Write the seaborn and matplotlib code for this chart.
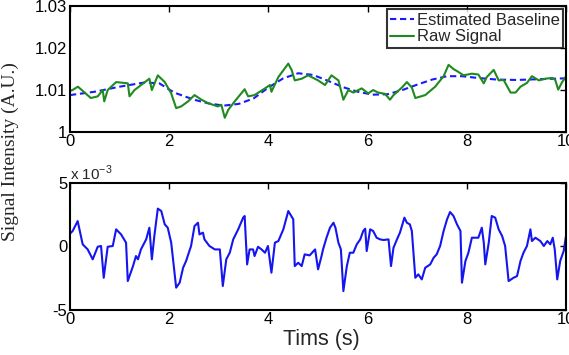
import numpy as np
import pandas as pd
import matplotlib
matplotlib.use("Agg")
import matplotlib.pyplot as plt
import seaborn as sns

# ---------------- data ----------------
raw_t = [0.0, 0.05, 0.16, 0.42, 0.56, 0.66, 0.69, 0.76, 0.93, 1.165, 1.2, 1.30, 1.60, 1.65, 1.77, 1.91,
         2.04, 2.14, 2.24, 2.38, 2.51, 2.65, 2.78, 2.98, 3.05, 3.12, 3.19, 3.32, 3.52, 3.59, 3.72, 3.93,
         4.03, 4.06, 4.20, 4.40, 4.47, 4.53, 4.67, 4.80, 5.0, 5.14, 5.27, 5.41, 5.51, 5.61, 5.71, 5.88,
         6.01, 6.11, 6.21, 6.35, 6.45, 6.52, 6.69, 6.79, 6.89, 6.96, 7.16, 7.36, 7.53, 7.63, 7.73, 7.83,
         7.93, 8.10, 8.23, 8.34, 8.40, 8.54, 8.64, 8.74, 8.88, 8.98, 9.08, 9.21, 9.31, 9.45, 9.58, 9.72,
         9.78, 9.84, 9.92, 10.0]
raw_v = [1.0098, 1.0100, 1.0108, 1.0081, 1.0085, 1.0100, 1.0073, 1.0100, 1.0119, 1.0116, 1.0085, 1.0100,
         1.0127, 1.0100, 1.0135, 1.0119, 1.0092, 1.0057, 1.0061, 1.0073, 1.0088, 1.0077, 1.0069, 1.0061,
         1.0065, 1.0034, 1.0053, 1.0073, 1.0102, 1.0085, 1.0088, 1.0104, 1.0112, 1.0096, 1.0131, 1.0163,
         1.0147, 1.0123, 1.0127, 1.0135, 1.0123, 1.0112, 1.0135, 1.0123, 1.0077, 1.0100, 1.0094, 1.0104,
         1.0092, 1.0100, 1.0094, 1.0091, 1.0077, 1.0088, 1.0106, 1.0119, 1.0106, 1.0081, 1.0088, 1.0108,
         1.0133, 1.0160, 1.0150, 1.0143, 1.0135, 1.0139, 1.0137, 1.0116, 1.0131, 1.0148, 1.0123, 1.0124,
         1.0094, 1.0094, 1.0108, 1.0117, 1.0133, 1.0123, 1.0127, 1.0129, 1.0124, 1.0101, 1.0119, 1.0133]

base_t = [0, 0.5, 1.0, 1.5, 1.8, 2.1, 2.5, 2.8, 3.1, 3.4, 3.7, 4.0, 4.3, 4.6, 4.9, 5.2, 5.5, 5.8, 6.1,
          6.4, 6.7, 7.0, 7.3, 7.6, 7.9, 8.2, 8.6, 9.0, 9.5, 10]
base_v = [1.0088, 1.0096, 1.0108, 1.0118, 1.0116, 1.0094, 1.0077, 1.0068, 1.0063, 1.0067, 1.0080, 1.0106,
          1.0128, 1.0140, 1.0136, 1.0122, 1.0107, 1.0096, 1.0089, 1.0090, 1.0100, 1.0113, 1.0125, 1.0133,
          1.0133, 1.0129, 1.0125, 1.0124, 1.0126, 1.0128]

det_t = [0.0, 0.054, 0.155, 0.256, 0.357, 0.458, 0.559, 0.626, 0.68, 0.76, 0.862, 0.93, 1.03, 1.13, 1.165,
         1.27, 1.33, 1.37, 1.43, 1.535, 1.60, 1.65, 1.70, 1.77, 1.84, 1.91, 1.97, 2.04, 2.14, 2.21, 2.28,
         2.34, 2.44, 2.51, 2.58, 2.61, 2.68, 2.71, 2.81, 2.92, 3.02, 3.08, 3.15, 3.22, 3.29, 3.39, 3.49,
         3.52, 3.57, 3.62, 3.69, 3.72, 3.79, 3.86, 3.93, 3.99, 4.06, 4.13, 4.20, 4.30, 4.40, 4.50, 4.53,
         4.60, 4.67, 4.73, 4.83, 4.94, 5.0, 5.07, 5.10, 5.17, 5.24, 5.31, 5.35, 5.41, 5.46, 5.51, 5.58,
         5.64, 5.71, 5.78, 5.85, 5.91, 5.95, 5.98, 6.05, 6.11, 6.18, 6.25, 6.32, 6.42, 6.47, 6.52, 6.59,
         6.65, 6.74, 6.79, 6.85, 6.89, 6.96, 7.02, 7.09, 7.16, 7.26, 7.33, 7.39, 7.46, 7.53, 7.60, 7.66,
         7.73, 7.80, 7.87, 7.90, 7.97, 8.03, 8.10, 8.17, 8.23, 8.30, 8.34, 8.37, 8.44, 8.50, 8.57, 8.64,
         8.71, 8.77, 8.84, 8.94, 9.01, 9.08, 9.14, 9.21, 9.28, 9.31, 9.38, 9.48, 9.55, 9.62, 9.68, 9.73,
         9.77, 9.82, 9.88, 9.95, 10.0]
det_v = [1.0, 1.21, 1.99, 0.16, -0.24, -1.02, -0.03, 0.03, -2.47, -0.03, 0.03, 1.34, 0.94, 0.29, -2.73,
         -1.55, -0.76, -1.02, -0.24, 0.55, 1.47, -1.02, 0.81, 2.97, 2.78, 1.73, 1.47, 0.29, -3.25, -2.86,
         -1.68, -1.15, 0.03, 1.60, 1.86, 0.94, 1.08, 0.55, 0.03, -0.24, -0.24, -3.12, -1.02, -0.50, 0.55,
         1.34, 2.26, 2.39, -1.42, -0.24, -0.24, -0.76, -0.03, -0.24, -0.50, 0.03, -2.07, 0.29, 0.42, 1.34,
         2.78, 2.13, -1.55, -1.29, -1.55, -0.63, -0.71, -0.24, -1.81, -0.76, -0.24, 0.68, 1.47, 1.86, 1.47,
         0.29, -0.24, -3.52, -1.55, -0.50, -0.50, 0.16, 0.55, 1.21, 1.39, -0.37, 1.34, 1.21, 0.68, 0.55,
         0.50, 0.55, -1.55, -0.11, 0.55, 1.08, 2.26, 1.86, 1.73, 1.21, -2.47, -2.20, -2.60, -1.68, -1.42,
         -0.89, -0.63, 0.03, 1.21, 2.13, 2.70, 2.39, 1.73, 1.21, -2.86, -1.15, -0.50, 0.68, 0.68, 0.68,
         1.47, 0.29, -1.42, 0.29, 2.39, 2.26, 1.34, 0.81, 0.03, -2.73, -2.47, -2.34, -1.15, -0.50, 0.03,
         1.34, 0.42, 0.68, 0.42, 0.03, 0.42, 0.16, 0.68, -0.24, -2.60, -1.15, -0.37, 0.90]

x_ticks = [0, 2, 4, 6, 8, 10]
top_yticks = [1.0, 1.01, 1.02, 1.03]
top_ylabels = ["1", "1.01", "1.02", "1.03"]
bot_yticks = [-5, 0, 5]
bot_ylabels = ["-5", "0", "5"]

# ---------------- plot ----------------
sns.set_style("white")
plt.rcParams['font.family'] = ['Liberation Sans', 'DejaVu Sans']

fig = plt.figure(figsize=(5.69, 3.55), dpi=100)
ax1 = fig.add_axes([0.123, 0.628, 0.872, 0.355])
ax2 = fig.add_axes([0.123, 0.127, 0.872, 0.358])

df_base = pd.DataFrame({"t": base_t, "v": base_v})
df_raw = pd.DataFrame({"t": raw_t, "v": raw_v})
df_det = pd.DataFrame({"t": det_t, "v": det_v})

sns.lineplot(data=df_base, x="t", y="v", ax=ax1, color="#1a1aff", lw=1.5,
             linestyle=(0, (3.0, 1.8)), label="Estimated Baseline")
sns.lineplot(data=df_raw, x="t", y="v", ax=ax1, color="#1f8a1f", lw=1.5, label="Raw Signal")
sns.lineplot(data=df_det, x="t", y="v", ax=ax2, color="#1515f0", lw=1.5)

for ax in (ax1, ax2):
    ax.set_xlim(0, 10)
    ax.set_xticks(x_ticks)
    ax.set_xticklabels([str(v) for v in x_ticks])
    ax.set_xlabel("")
    ax.set_ylabel("")
    ax.tick_params(direction="in", top=True, right=True, length=4, width=1.0,
                   labelsize=12, colors="black")
    ax.tick_params(axis="x", pad=1.5)
    ax.tick_params(axis="y", pad=2)
    for s in ax.spines.values():
        s.set_visible(True)
        s.set_color("black")
        s.set_linewidth(1.5)

ax1.set_ylim(1.0, 1.03)
ax1.set_yticks(top_yticks)
ax1.set_yticklabels(top_ylabels)
ax2.set_ylim(-5, 5)
ax2.set_yticks(bot_yticks)
ax2.set_yticklabels(bot_ylabels)

ax2.text(0.0, 1.0, r"x 10$^{\mathregular{-3}}$", transform=ax2.transAxes,
         fontsize=11, ha="left", va="bottom")

leg = ax1.legend(loc="upper right", fontsize=12, frameon=True, fancybox=False,
                 borderpad=0.2, labelspacing=0.1, handlelength=1.45, handletextpad=0.15,
                 borderaxespad=0.2)
leg.get_frame().set_edgecolor("black")
leg.get_frame().set_linewidth(1.5)

fig.text(0.565, 0.015, "Tims (s)", ha="center", va="bottom", fontsize=15.5)
fig.text(0.003, 0.572, "Signal Intensity (A.U.)", rotation=90, ha="left", va="center",
         fontsize=14, family=["Liberation Serif", "DejaVu Serif"])

fig.savefig("out.png", dpi=100, facecolor="white")
